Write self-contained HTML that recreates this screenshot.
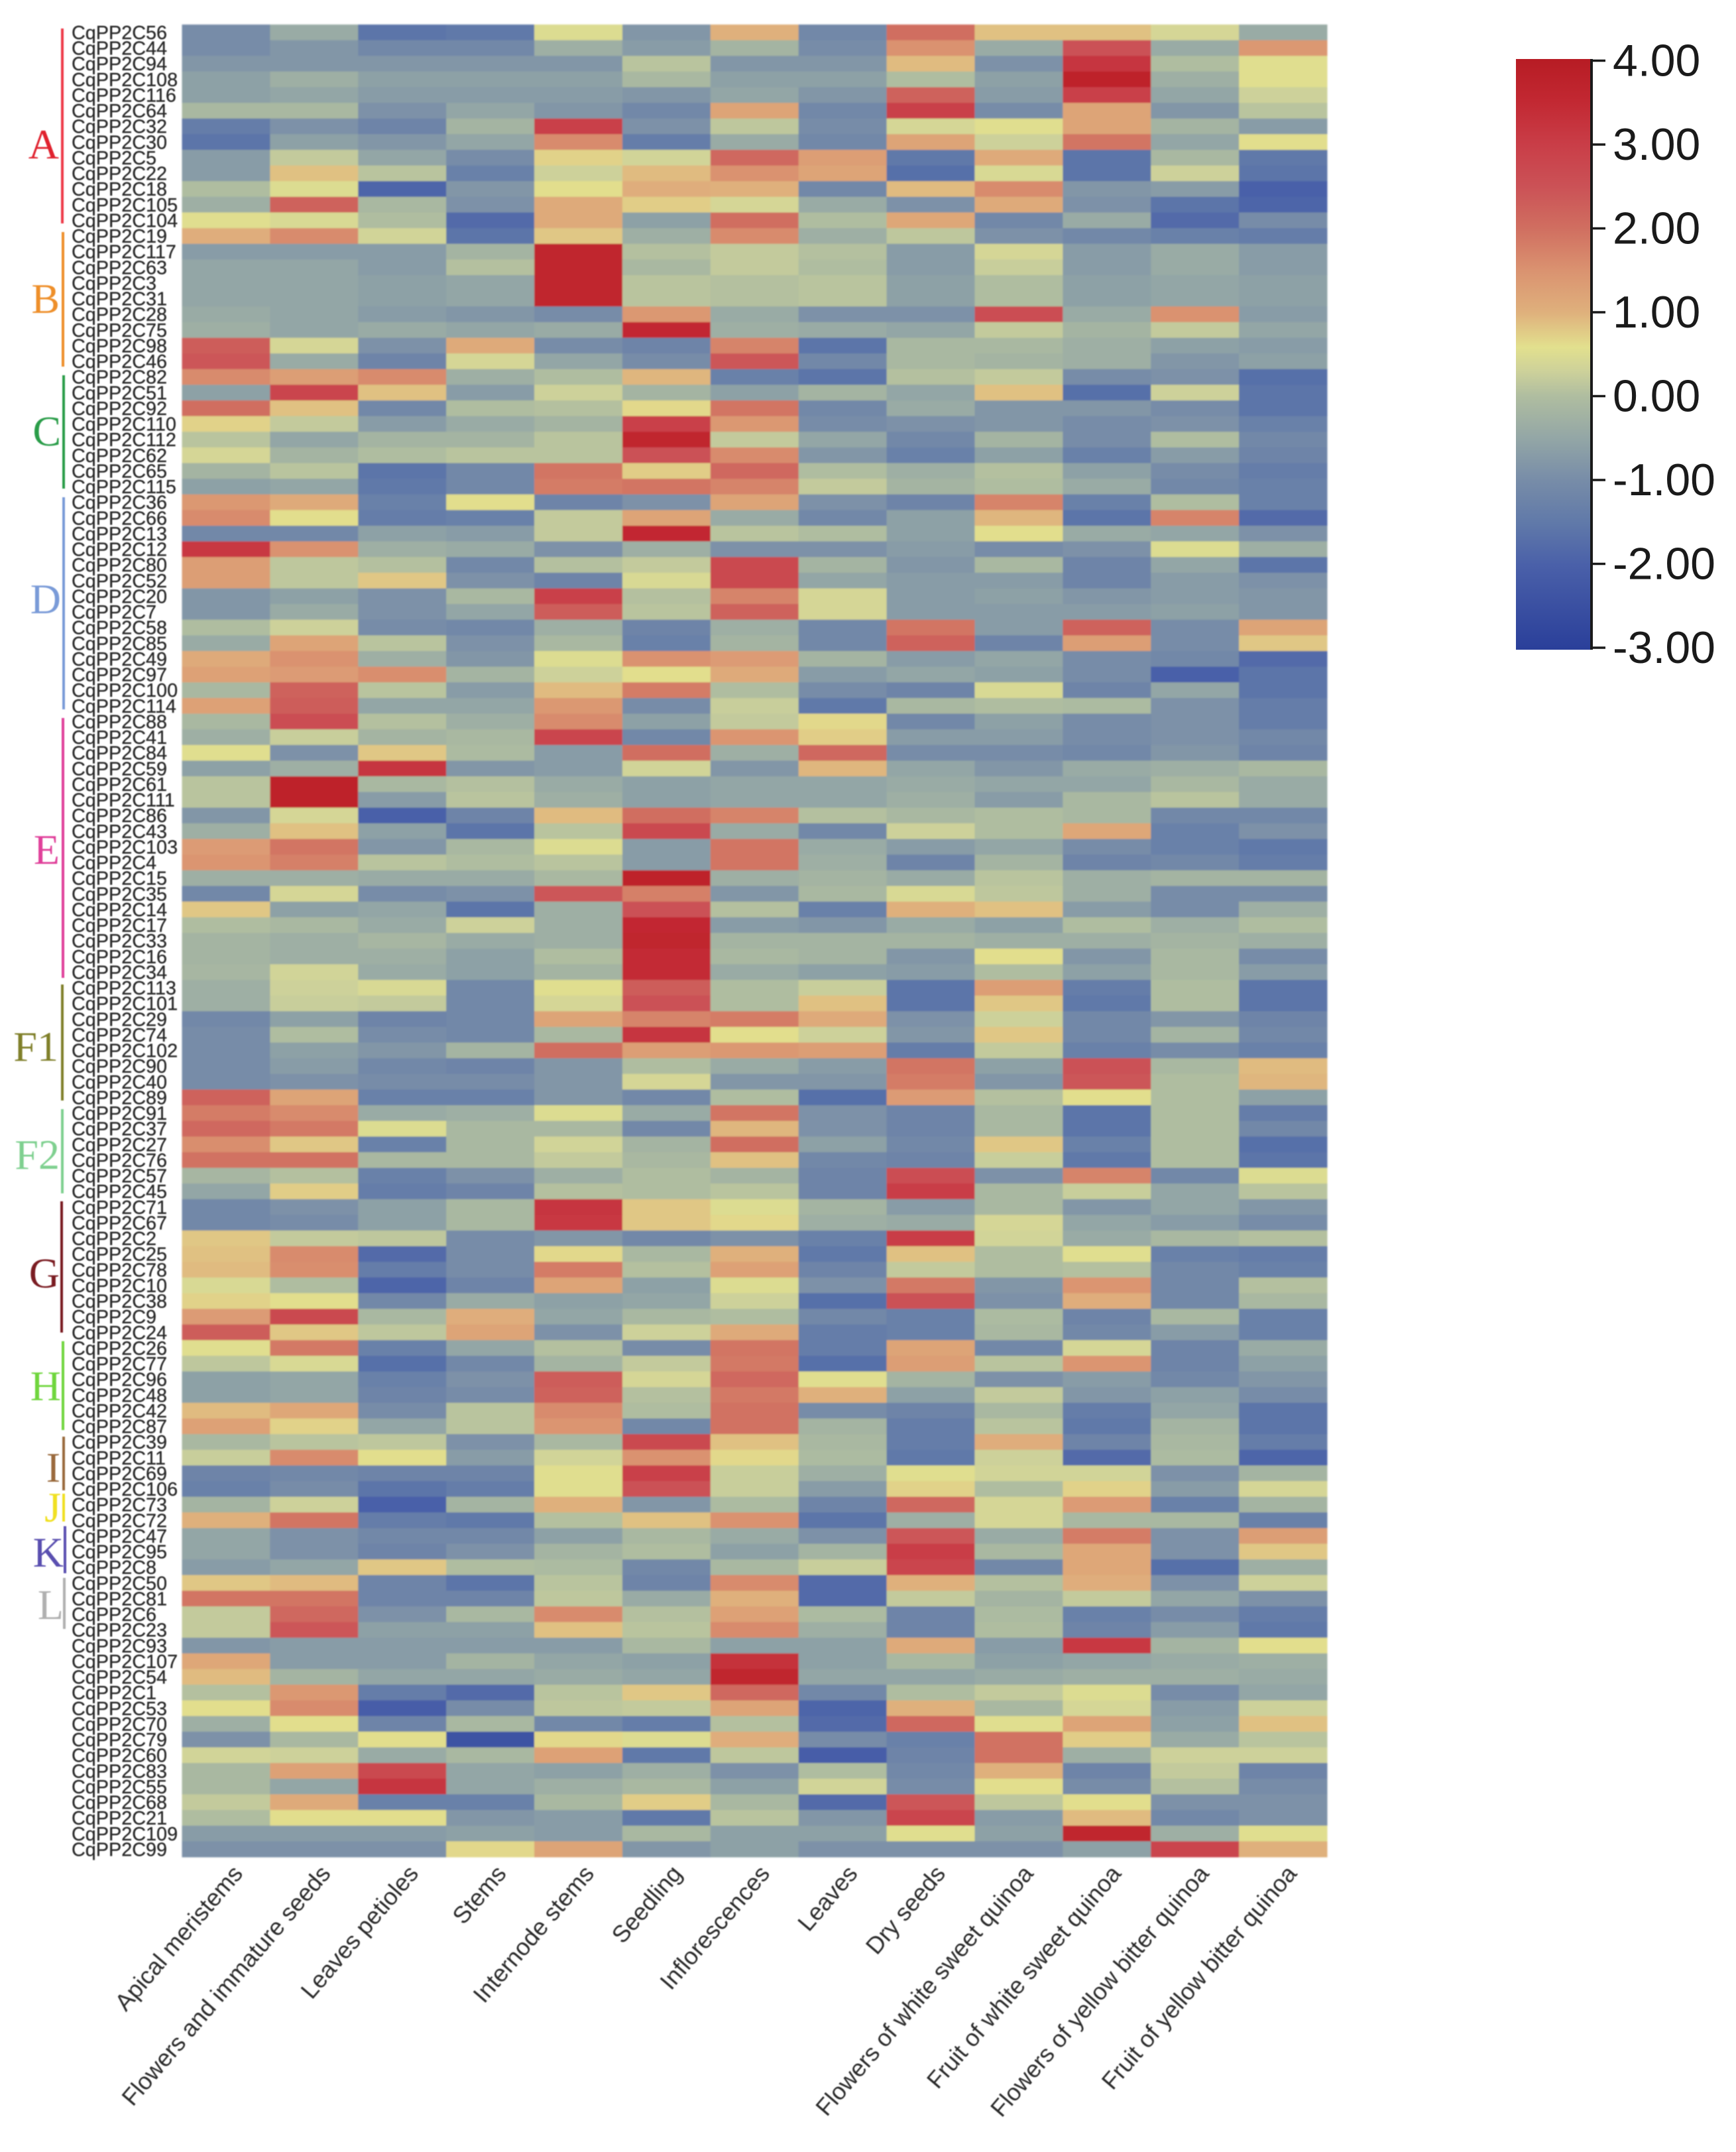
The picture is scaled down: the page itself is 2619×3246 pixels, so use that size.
<!DOCTYPE html>
<html lang="en">
<head>
<meta charset="utf-8">
<title>CqPP2C expression heatmap</title>
<style>
html,body{margin:0;padding:0;background:#fff;}
#stage{display:block;width:2619px;height:3246px;font-family:"Liberation Sans",sans-serif;}
</style>
</head>
<body>
<svg id="stage" xmlns="http://www.w3.org/2000/svg" width="2619" height="3246" viewBox="0 0 2619 3246">
  <defs>
    <filter id="cellBlur" x="-2%" y="-2%" width="104%" height="104%"><feGaussianBlur stdDeviation="1.1"/></filter>
    <filter id="textBlur" x="-5%" y="-5%" width="110%" height="110%"><feGaussianBlur stdDeviation="0.7"/></filter>
    <linearGradient id="barGradient" x1="0" y1="0" x2="0" y2="1"></linearGradient>
  </defs>
  <rect width="2619" height="3246" fill="#fff"/>
  <g id="cells" filter="url(#cellBlur)"></g>
  <g id="rowLabels" filter="url(#textBlur)"></g>
  <g id="colLabels" filter="url(#textBlur)"></g>

  <g filter="url(#textBlur)" font-family="'Liberation Serif',serif" font-size="64" text-anchor="end">
    <line x1="94" y1="43" x2="94" y2="337" stroke="#ee3a48" stroke-width="4"/>
    <text x="89" y="239" fill="#e0202e">A</text>
    <line x1="95" y1="350" x2="95" y2="553" stroke="#ee8f2a" stroke-width="4"/>
    <text x="90" y="472" fill="#ee8f2a">B</text>
    <line x1="96" y1="566" x2="96" y2="737" stroke="#2a9d4a" stroke-width="4"/>
    <text x="92" y="672" fill="#2a9d4a">C</text>
    <line x1="96" y1="750" x2="96" y2="1070" stroke="#7a9bd8" stroke-width="4"/>
    <text x="92" y="925" fill="#7a9bd8">D</text>
    <line x1="95" y1="1083" x2="95" y2="1475" stroke="#e0409a" stroke-width="4"/>
    <text x="90" y="1303" fill="#e0409a">E</text>
    <line x1="94" y1="1485" x2="94" y2="1660" stroke="#80802a" stroke-width="4"/>
    <text x="88" y="1600" fill="#80802a">F1</text>
    <line x1="94" y1="1673" x2="94" y2="1800" stroke="#7fd090" stroke-width="4"/>
    <text x="90" y="1763" fill="#7fd090">F2</text>
    <line x1="93" y1="1812" x2="93" y2="2010" stroke="#7a1a20" stroke-width="4"/>
    <text x="90" y="1942" fill="#7a1a20">G</text>
    <line x1="95" y1="2023" x2="95" y2="2157" stroke="#6fd63c" stroke-width="4"/>
    <text x="92" y="2112" fill="#6fd63c">H</text>
    <line x1="96" y1="2167" x2="96" y2="2248" stroke="#9a6a3c" stroke-width="4"/>
    <text x="91" y="2235" fill="#9a6a3c">I</text>
    <line x1="96" y1="2253" x2="96" y2="2295" stroke="#f0e020" stroke-width="4"/>
    <text x="92" y="2295" fill="#f0e020">J</text>
    <line x1="98" y1="2302" x2="98" y2="2373" stroke="#5a50b0" stroke-width="4"/>
    <text x="96" y="2363" fill="#5a50b0">K</text>
    <line x1="97" y1="2380" x2="97" y2="2457" stroke="#b0b0b0" stroke-width="4"/>
    <text x="96" y="2442" fill="#b0b0b0">L</text>
  </g>

  <g id="legend"></g>
</svg>
<script>
const samples = ["Apical meristems","Flowers and immature seeds","Leaves petioles","Stems","Internode stems","Seedling","Inflorescences","Leaves","Dry seeds","Flowers of white sweet quinoa","Fruit of white sweet quinoa","Flowers of yellow bitter quinoa","Fruit of yellow bitter quinoa"];
const geneNumbers = [56,44,94,108,116,64,32,30,5,22,18,105,104,19,117,63,3,31,28,75,98,46,82,51,92,110,112,62,65,115,36,66,13,12,80,52,20,7,58,85,49,97,100,114,88,41,84,59,61,111,86,43,103,4,15,35,14,17,33,16,34,113,101,29,74,102,90,40,89,91,37,27,76,57,45,71,67,2,25,78,10,38,9,24,26,77,96,48,42,87,39,11,69,106,73,72,47,95,8,50,81,6,23,93,107,54,1,53,70,79,60,83,55,68,21,109,99];
const legendTicks = [4,3,2,1,0,-1,-2,-3];
const legendTickLabels = ["4.00","3.00","2.00","1.00","0.00","-1.00","-2.00","-3.00"];
const values = [
[-1.0,-0.4,-1.6,-1.5,0.5,-0.8,1.0,-1.1,2.0,0.85,0.85,0.4,-0.4],
[-1.0,-0.8,-1.1,-1.1,-0.3,-0.7,-0.2,-1.0,1.5,-0.4,2.5,-0.4,1.4],
[-0.8,-0.8,-0.8,-0.8,-0.8,0.1,-0.8,-0.8,0.9,-0.9,3.2,0,0.55],
[-0.6,-0.3,-0.6,-0.6,-0.6,-0.1,-0.6,-0.6,0,-0.6,3.7,-0.3,0.55],
[-0.6,-0.5,-0.7,-0.7,-0.7,-0.8,-0.5,-0.8,2.2,-0.7,2.9,-0.5,0.3],
[-0.1,-0.1,-0.9,-0.5,-0.8,-1.1,1.2,-1.1,2.9,-1.0,1.2,-0.8,0.1],
[-1.4,-0.9,-1.2,-0.2,2.9,-0.9,0.15,-1,0.4,0.55,1.2,-0.2,-0.7],
[-1.6,-0.6,-0.8,-0.5,1.6,-1.4,-0.4,-1.1,1.2,0.3,1.9,-0.5,0.6],
[-0.7,0.2,-0.5,-1,0.7,0.35,2.1,1.3,-1.5,1.1,-1.6,-0.1,-1.5],
[-0.7,0.85,0.1,-1.3,0.3,0.9,1.5,1.2,-1.7,0.45,-1.6,0.3,-1.6],
[0,0.5,-1.9,-0.8,0.6,1.05,1.0,-1.1,0.9,1.6,-0.8,-0.7,-2.0],
[-0.3,2.2,-0.1,-0.9,1.1,0.75,0.4,-0.4,-0.9,1.1,-0.9,-1.6,-1.9],
[0.55,0.45,0,-1.8,1.1,-0.6,2.0,0,1.15,-1.1,-0.4,-1.8,-1.0],
[1.05,1.6,0.35,-1.6,0.8,-0.3,1.6,-0.3,0.15,-0.9,-1.1,-1.3,-1.4],
[-0.7,-0.7,-0.7,-0.2,3.6,0.05,0.2,0.05,-0.7,0.4,-0.7,-0.4,-0.7],
[-0.5,-0.5,-0.7,0.05,3.6,-0.1,0.2,0,-0.7,0.25,-0.7,-0.4,-0.7],
[-0.5,-0.5,-0.6,-0.5,3.6,0.1,0.05,0.1,-0.6,0,-0.6,-0.5,-0.6],
[-0.5,-0.5,-0.6,-0.5,3.6,0.1,0.05,0.1,-0.6,0,-0.6,-0.5,-0.6],
[-0.4,-0.5,-0.7,-0.8,-1,1.4,-0.4,-0.9,-0.9,2.6,-0.4,1.5,-0.7],
[-0.3,-0.5,-0.4,-0.5,-0.4,3.5,-0.3,-0.4,-0.5,0.2,-0.2,0.2,-0.5],
[2.3,0.4,-0.9,1.1,-1,-1.2,1.7,-1.6,-0.1,-0.1,-0.3,-0.6,-0.7],
[2.4,-0.4,-1.2,0.4,-0.5,-1,2.4,-1.1,-0.1,-0.2,-0.3,-0.8,-0.6],
[1.6,1.3,1.6,-0.3,0,0.95,-1.3,-1.6,0.05,0.2,-1.0,-0.9,-1.7],
[-0.6,2.8,0.85,-0.7,0.3,-0.2,-0.6,-0.2,-0.5,0.85,-1.7,0.3,-1.6],
[2.0,0.85,-1.1,0,0.05,0.65,1.9,-1.1,-0.4,-0.8,-0.8,-1.0,-1.6],
[0.7,0.2,-0.7,-0.4,-0.2,2.9,1.4,-1,-0.9,-0.8,-1.0,-0.9,-1.3],
[0.1,-0.5,-0.2,-0.2,0.1,3.6,0.2,-0.5,-1.1,-0.2,-1.0,0,-1.1],
[0.4,-0.2,0,0.1,0.1,2.5,1.6,-0.8,-1.3,-0.6,-1.3,-0.7,-1.2],
[-0.2,0.1,-1.6,-1.1,1.9,0.75,2.1,0,-0.3,0.05,-0.6,-1.0,-1.4],
[-0.6,-0.5,-1.5,-1.1,1.8,1.9,1.7,0.2,-0.2,0,-0.4,-1.1,-1.3],
[1.4,1.1,-1.3,0.6,-1.2,-0.9,1.2,-0.9,-1.2,1.7,-1.3,0,-1.3],
[1.6,0.6,-1.4,-1.3,0.2,1.2,-0.4,-1.1,-0.6,0.95,-1.6,1.7,-1.8],
[-1.1,-1.1,-0.6,-0.7,0.2,3.5,0.1,0,-0.6,0.6,-0.4,-0.5,-0.9],
[3.1,1.5,-0.3,-0.4,-0.9,-0.3,-0.9,-0.9,-0.7,-1,-0.9,0.5,-0.3],
[1.3,0.15,0.05,-1.1,0.05,0.2,2.7,-0.2,-0.8,-0.1,-1.2,-0.5,-1.6],
[1.3,0.15,0.8,-0.9,-1.2,0.45,2.7,-0.5,-0.7,-0.7,-1.2,-0.7,-0.9],
[-0.8,-0.6,-0.9,-0.1,2.9,0.05,1.7,0.4,-0.7,-0.6,-0.8,-0.7,-0.8],
[-0.8,-0.4,-0.9,-0.5,2.3,0.1,2.2,0.4,-0.7,-0.7,-0.7,-0.6,-0.8],
[0,0.3,-1,-1.1,-0.3,-1.2,-0.3,-1.1,1.9,-0.7,2.2,-1,1.2],
[-0.4,1.2,0.1,-0.9,-0.1,-1.3,-0.2,-1.1,2.2,-1.2,1.3,-1,0.8],
[1.1,1.5,-0.3,-0.8,0.5,1.5,1.35,-0.2,-0.7,-0.5,-1,-1.1,-1.8],
[1.25,1.35,1.55,-0.2,0.3,0.6,1.1,-0.7,-0.5,-0.6,-1.0,-2.0,-1.6],
[-0.1,2.2,0.1,-0.7,0.9,1.8,0,-1.0,-1.2,0.45,-1.2,-0.5,-1.6],
[1.25,2.3,-0.5,-0.5,1.4,-1,0.25,-1.5,-0.1,0,-0.05,-0.9,-1.4],
[-0.1,2.6,0.05,-0.3,1.6,-0.6,0.2,0.65,-1.1,-0.6,-1.0,-0.9,-1.4],
[-0.3,0.25,-0.2,-0.1,2.8,-1.1,1.45,0.75,-0.7,-0.7,-1,-0.9,-1.1],
[0.55,-0.9,0.8,-0.05,-0.7,2.0,-0.3,2.1,-1,-1,-1.1,-0.8,-1.2],
[-0.6,-0.3,3.2,-0.8,-0.7,0.35,-0.8,0.95,-0.5,-0.8,-0.4,-0.3,-0.1],
[0.1,3.7,-0.1,0.05,-0.4,-0.6,-0.5,-0.5,-0.4,-0.5,-0.5,-0.1,-0.4],
[0.1,3.7,-0.7,0.1,-0.3,-0.6,-0.5,-0.5,-0.3,-0.7,-0.1,0.1,-0.4],
[-0.8,0.4,-2,-1.2,0.9,2.0,1.7,0.05,-0.1,0,-0.1,-1.1,-1.1],
[-0.3,0.85,-0.6,-1.6,0.1,2.7,-0.4,-1.1,0.3,0,1.15,-1.3,-0.9],
[1.35,1.9,-0.8,-0.1,0.5,-0.7,1.9,-0.4,-0.7,-0.5,-1.0,-1.3,-1.5],
[1.45,1.75,0.1,0,0.1,-0.7,1.9,-0.3,-1.2,-0.2,-1.2,-1.1,-1.4],
[-0.3,-0.3,-0.4,-0.4,-0.1,3.7,-0.3,-0.2,-0.4,0.1,-0.3,-0.2,-0.2],
[-1.1,0.4,-1,-0.9,2.4,1.75,-0.8,-0.1,0.45,0.15,-0.3,-1.0,-1.0],
[0.8,-0.6,-0.5,-1.6,-0.3,2.5,0.05,-1.3,1.0,0.85,-0.7,-1.0,-0.3],
[0,-0.1,-0.4,0.3,-0.3,3.5,-0.7,-0.8,-0.4,-0.6,0,-0.3,0],
[-0.2,-0.3,-0.15,-0.4,-0.3,3.6,-0.2,-0.2,-0.2,-0.3,-0.3,-0.2,-0.3],
[-0.2,-0.3,-0.3,-0.6,0,3.4,-0.1,-0.2,-0.8,0.6,-0.8,-0.1,-1],
[-0.15,0.35,-0.4,-0.6,-0.2,3.4,-0.4,-0.6,-0.7,0,-0.6,-0.1,-0.7],
[-0.3,0.3,0.45,-1.1,0.55,2.3,0,0.25,-1.6,1.3,-1.4,0,-1.6],
[-0.3,0.25,0.2,-1.1,0.4,2.5,0,0.85,-1.6,0.8,-1.5,0,-1.6],
[-1.1,-0.6,-1.2,-1.1,1.2,1.7,1.8,1.1,-0.9,0.3,-1.1,-0.8,-1.2],
[-1.0,0,-1.0,-1.1,-0.1,3.2,0.6,0.3,-0.8,0.8,-1.1,-0.2,-1.1],
[-1.0,-0.6,-0.8,-0.2,2.0,1.3,1.4,1.3,-1.4,0.2,-1.3,-1,-1.3],
[-1,-0.7,-1.1,-1.2,-0.8,0,-0.4,-0.7,1.9,-0.6,2.5,-0.1,0.9],
[-1,-0.9,-1,-1,-0.8,0.4,-0.8,-0.8,1.8,-0.8,2.4,0,0.95],
[2.2,1.2,-1.3,-1.3,-0.8,-1.1,0,-1.7,1.35,0.05,0.6,0,-0.6],
[1.8,1.6,-0.4,-0.3,0.5,-0.4,1.9,-0.9,-1.2,-0.1,-1.6,0,-1.4],
[2.1,1.85,0.5,-0.1,-0.1,-1.1,0.95,-0.9,-1.2,-0.1,-1.6,0,-1.1],
[1.55,0.8,-1.3,-0.1,0.35,-0.2,2.0,-0.6,-1.1,0.8,-1.3,0,-1.7],
[1.95,1.95,-0.1,-0.1,0.2,-0.1,0.85,-1.1,-1.2,0.25,-1.5,0,-1.6],
[-0.15,0.05,-1.3,-0.9,-0.3,0,-0.2,-1.2,2.6,-0.9,1.7,-1.1,0.5],
[-0.5,0.75,-1.4,-1.2,0.05,0,0.1,-1.2,3.0,-0.1,0.25,-0.5,0.1],
[-1.1,-0.9,-0.6,-0.1,3.2,0.8,0.5,-0.2,-0.7,-0.1,-0.8,-0.5,-0.8],
[-1.1,-1.0,-0.6,-0.1,3.1,0.8,0.65,-0.3,-0.4,0.4,-0.5,-0.7,-1.0],
[0.8,0.2,0.15,-1.0,-0.8,-1.1,-0.9,-1.3,3.0,0.35,-0.4,-0.1,0.05],
[0.85,1.6,-1.8,-1.0,0.65,-0.1,1.0,-1.5,0.85,0,0.55,-1.3,-1.4],
[0.9,1.55,-1.4,-1.0,1.8,0.05,1.25,-1.2,0.2,0,0.05,-1.1,-1.3],
[0.45,0,-1.9,-1.2,1.2,-0.6,0.5,-0.9,1.85,-0.8,1.45,-1.1,0.05],
[0.7,0.6,-1.1,-0.4,-0.6,-0.5,0.3,-1.7,2.5,-0.9,1.05,-1.1,-0.1],
[1.35,2.7,-0.1,1.05,-0.5,-0.1,0,-1.1,-1.3,-0.05,-1.2,-0.1,-1.3],
[2.3,0.8,0.15,1.2,-0.9,0.3,1.1,-1.4,-1.3,-0.1,-1.1,-0.7,-1.3],
[0.55,1.85,-1.3,-0.5,0.05,-1,1.9,-1.4,1.2,-1.1,0.4,-1.2,-0.4],
[0.15,0.45,-1.7,-1.1,-0.2,0.2,1.85,-1.7,1.3,0.1,1.45,-1.2,-0.6],
[-0.6,-0.5,-1.3,-0.9,2.3,0.4,2.1,0.55,-0.2,-0.9,-0.7,-1.1,-0.8],
[-0.6,-0.5,-1.2,-1,2.2,0.05,1.85,1.0,-0.6,0.2,-0.8,-0.6,-1.0],
[0.9,1.15,-1,0.1,1.6,0,1.95,-1.0,-1.2,-0.1,-1.4,-0.5,-1.6],
[1.25,0.7,-0.5,0.1,1.45,-1.1,1.95,-0.2,-1.4,0.1,-1.5,-0.2,-1.6],
[-0.1,0.1,0.15,-0.9,-0.1,2.7,0.85,-0.1,-1.4,1.05,-1.2,-0.1,-1.4],
[0.25,1.6,0.6,-0.7,0.35,1.5,0.65,-0.05,-1.5,0.3,-1.8,-0.05,-1.9],
[-1.2,-1.1,-1.2,-1.2,0.55,2.9,0.25,-0.3,0.55,0.35,0.35,-0.9,-0.2],
[-1.3,-1.0,-1.6,-1.4,0.55,2.5,0.25,-0.7,0.7,0,0.7,-0.7,0.4],
[-0.2,0.3,-2,-0.2,1,-0.8,-0.05,-1.2,2.1,0.4,1.35,-1.3,-0.2],
[1,1.9,-1.4,-1.5,0.05,0.85,1.5,-1.6,-0.3,0.4,-0.1,-0.1,-1.3],
[-0.5,-0.9,-1.1,-1.1,-0.6,-0.1,-0.4,-0.9,2.4,-0.4,1.8,-0.9,1.3],
[-0.5,-0.9,-1.2,-0.9,-0.2,0,-0.6,-0.2,3.0,-0.1,1.15,-0.9,0.8],
[-0.7,-0.5,0.8,0,-0.05,-1.1,-0.1,0.25,2.8,-1.1,1.15,-1.7,-0.3],
[0.8,0.9,-1.2,-1.6,0.1,-1.2,1.6,-1.8,1,0.05,1.05,-0.9,0.3],
[1.9,1.9,-1.2,-1.2,0.15,-0.4,1.0,-1.8,0.2,-0.2,0.2,-0.5,-0.9],
[0.2,2.1,-0.9,-0.1,1.6,0.05,1.25,-0.05,-1.2,-0.05,-1.3,-1,-1.4],
[0.2,2.4,-0.6,-0.6,0.85,0.1,1.6,-0.3,-1.2,0,-1.2,-0.7,-1.5],
[-0.8,-0.7,-0.7,-0.7,-0.7,-0.1,-0.6,-0.6,1.1,-0.7,3.1,-0.2,0.6],
[1.15,-0.7,-0.7,-0.2,-0.5,-0.6,3.3,-0.6,-0.1,-0.6,-0.5,-0.4,-0.3],
[0.9,-0.2,-0.5,-0.5,-0.4,-0.5,3.6,-0.5,-0.5,-0.4,-0.3,-0.3,-0.4],
[0.05,1.4,-1.4,-1.8,0.1,0.8,2.1,-1.1,0,0.2,0.5,-1,-0.5],
[0.6,1.6,-2.1,-1,0.15,0.2,1.2,-1.9,1,-0.1,0.4,-0.7,0.3],
[-0.3,0.6,-1.2,-0.1,-1.1,-1.4,0.05,-1.8,2.1,0.55,1.2,-0.6,0.85],
[-0.9,-0.1,0.6,-2.4,0.65,0.5,1.05,-1.0,-1.3,1.95,0.75,-0.4,0.1],
[0.35,0.3,-0.4,-0.1,1.25,-1.5,0.15,-2.1,-1.2,1.95,-0.3,0.3,0.3],
[-0.1,1.25,2.7,-0.5,-0.6,-0.3,-0.9,0,-1.1,1.0,-1.2,0.2,-1.2],
[-0.1,-0.5,3.2,-0.5,-0.3,-0.1,-0.6,0.35,-1.0,0.6,-1,0.05,-1],
[0.2,1.1,-1.3,-1.3,-0.1,0.75,-0.1,-1.8,2.4,0.15,0.6,-0.9,-0.9],
[0,0.6,0.6,-0.8,-0.7,-1.5,0.1,-0.8,2.8,-0.7,0.9,-1.1,-0.9],
[-0.7,-0.7,-0.7,-0.6,-0.7,-0.1,-0.6,-0.6,0.55,-0.6,3.6,-0.3,0.55],
[-0.9,-0.9,-0.9,0.65,1.2,-0.8,-0.6,-0.9,-0.9,-0.9,-0.6,2.8,1.0]
];

const NS = "http://www.w3.org/2000/svg";
const colorDomain = [-3,-2,-1.5,-1,-0.5,0,0.3,0.58,1,1.5,2,2.5,3,3.5,4];
const colorRange = ["#2a3f9a","#4a60a9","#6079a9","#778ca8","#93a6a6","#afbda0","#cdd19a","#e2e08e","#dfb07c","#da9270","#d06e60","#cb5156","#c93d47","#c22832","#b71c24"];

function hexToRgb(h){return [parseInt(h.slice(1,3),16),parseInt(h.slice(3,5),16),parseInt(h.slice(5,7),16)];}
function colorScale(v){
  const c = Math.max(-3,Math.min(4,v));
  for(let i=0;i<colorDomain.length-1;i++){
    if(c<=colorDomain[i+1]){
      const t=(c-colorDomain[i])/(colorDomain[i+1]-colorDomain[i]);
      const a=hexToRgb(colorRange[i]),b=hexToRgb(colorRange[i+1]);
      return "rgb("+a.map((x,k)=>Math.round(x+(b[k]-x)*t)).join(",")+")";
    }
  }
  return colorRange[colorRange.length-1];
}
const plotLeft=274.5, plotTop=37, plotRight=2002, plotBottom=2801;
const cellW=(plotRight-plotLeft)/samples.length;
const cellH=(plotBottom-plotTop)/geneNumbers.length;
function xScale(i){return plotLeft+i*cellW;}
function yScale(i){return plotTop+i*cellH;}
function labelEndX(i){return 368+i*132.5;}
const barTop=89, barBottom=980, barLeft=2287, barRight=2400;
const tickTop=91.5, tickBottom=977;
function legendY(v){return tickTop+(4-v)/7*(tickBottom-tickTop);}

const cellsG=document.getElementById("cells");
values.forEach(function(row,r){
  row.forEach(function(v,c){
    const rect=document.createElementNS(NS,"rect");
    rect.setAttribute("x",xScale(c));
    rect.setAttribute("y",yScale(r));
    rect.setAttribute("width",cellW+0.5);
    rect.setAttribute("height",cellH+0.5);
    rect.setAttribute("fill",colorScale(v));
    
    
    cellsG.appendChild(rect);
  });
});

const rowG=document.getElementById("rowLabels");
geneNumbers.forEach(function(n,r){
  const t=document.createElementNS(NS,"text");
  t.setAttribute("x",108);
  t.setAttribute("y",yScale(r)+22);
  t.setAttribute("font-size","28.8");
  t.setAttribute("fill","#2c2c2c");
  t.setAttribute("stroke","#2c2c2c");
  t.setAttribute("stroke-width","0.35");
  t.textContent="CqPP2C"+n;
  
  
  rowG.appendChild(t);
});

const colG=document.getElementById("colLabels");
samples.forEach(function(s,c){
  const t=document.createElementNS(NS,"text");
  const px=labelEndX(c);
  const py=2827;
  t.setAttribute("x",px);
  t.setAttribute("y",py);
  t.setAttribute("font-size","36");
  t.setAttribute("fill","#2c2c2c");
  t.setAttribute("text-anchor","end");
  t.setAttribute("transform","rotate(-49.5 "+px+" "+py+")");
  t.textContent=s;
  
  
  colG.appendChild(t);
});

const grad=document.getElementById("barGradient");
colorDomain.slice().reverse().forEach(function(v){
  const st=document.createElementNS(NS,"stop");
  st.setAttribute("offset",((4-v)/7*100)+"%");
  st.setAttribute("stop-color",colorScale(v));
  grad.appendChild(st);
});
const legendG=document.getElementById("legend");
const bar=document.createElementNS(NS,"rect");
bar.setAttribute("x",barLeft);
bar.setAttribute("y",barTop);
bar.setAttribute("width",barRight-barLeft);
bar.setAttribute("height",barBottom-barTop);
bar.setAttribute("fill","url(#barGradient)");


legendG.appendChild(bar);
const axis=document.createElementNS(NS,"line");
axis.setAttribute("x1",2401);
axis.setAttribute("x2",2401);
axis.setAttribute("y1",barTop);
axis.setAttribute("y2",barBottom);
axis.setAttribute("stroke","#1a1a1a");
axis.setAttribute("stroke-width","4");


legendG.appendChild(axis);
legendTicks.forEach(function(v,i){
  const y=legendY(v);
  const tick=document.createElementNS(NS,"line");
  tick.setAttribute("x1",2401);
  tick.setAttribute("x2",2422);
  tick.setAttribute("y1",y);
  tick.setAttribute("y2",y);
  tick.setAttribute("stroke","#1a1a1a");
  tick.setAttribute("stroke-width","3.5");
  
  
  legendG.appendChild(tick);
  const t=document.createElementNS(NS,"text");
  t.setAttribute("x",2433);
  t.setAttribute("y",y+23);
  t.setAttribute("font-size","68");
  t.setAttribute("fill","#1a1a1a");
  t.textContent=legendTickLabels[i];
  
  
  legendG.appendChild(t);
});
</script>
</body>
</html>
